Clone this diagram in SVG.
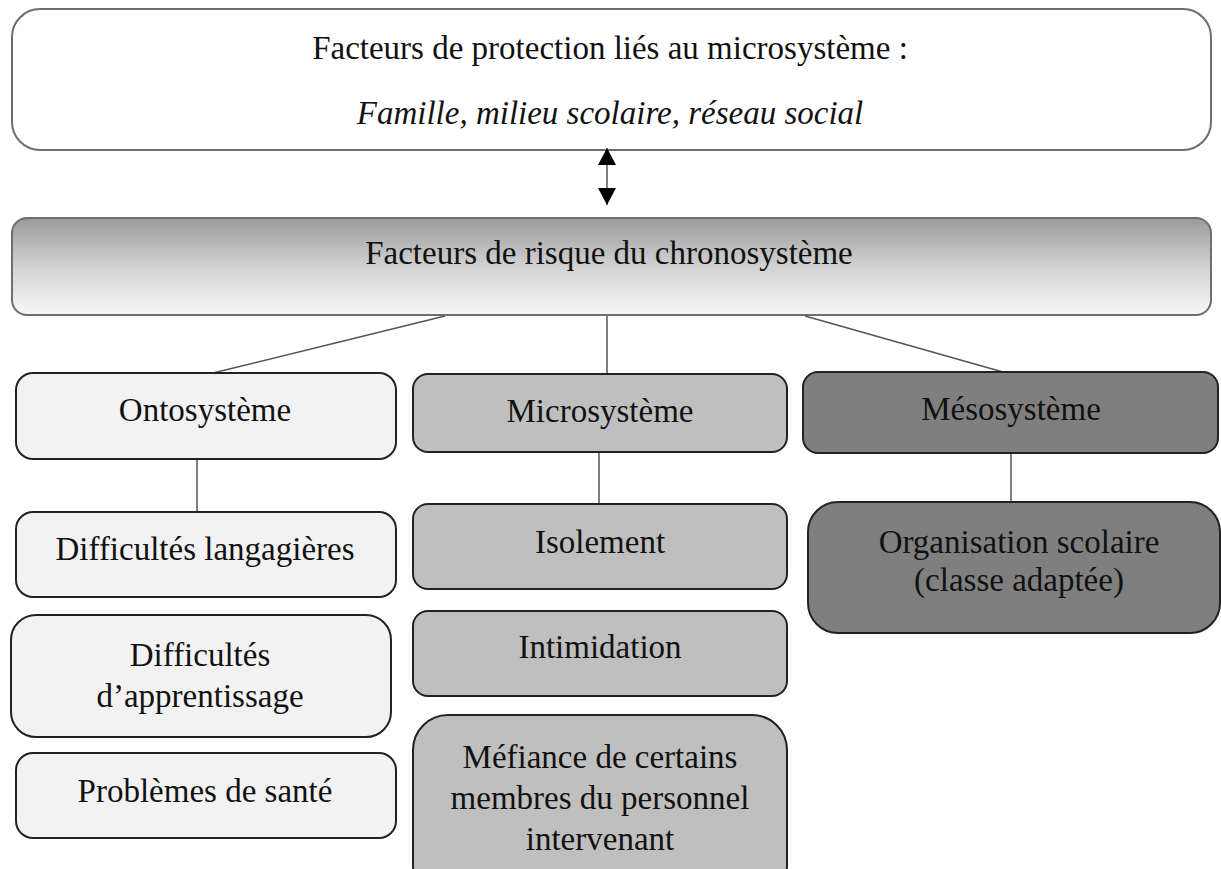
<svg xmlns="http://www.w3.org/2000/svg" width="1221" height="869" viewBox="0 0 1221 869">
<defs>
<linearGradient id="g" x1="0" y1="0" x2="0" y2="1">
<stop offset="0" stop-color="#9a9a9a"/>
<stop offset="0.5" stop-color="#d2d2d2"/>
<stop offset="1" stop-color="#f8f8f8"/>
</linearGradient>
<marker id="ah" viewBox="0 0 17 18" refX="17" refY="9" markerWidth="17" markerHeight="18" markerUnits="userSpaceOnUse" orient="auto-start-reverse">
<path d="M0,0 L17,9 L0,18 Z" fill="#000"/>
</marker>
</defs>
<style>
text{font-family:"Liberation Serif","Times New Roman",serif;font-size:33px;fill:#111;text-anchor:middle}
.b{stroke:#222;stroke-width:2}
.onto{fill:#f2f2f2}
.micro{fill:#bfbfbf}
.meso{fill:#7f7f7f}
.c{stroke:#555;stroke-width:1.5;fill:none}
</style>
<g id="protection">
<rect x="12" y="9" width="1199" height="141" rx="28" fill="#fff" stroke="#6e6e6e" stroke-width="2"/>
<text x="610" y="59">Facteurs de protection liés au microsystème :</text>
<text x="610" y="124" font-style="italic">Famille, milieu scolaire, réseau social</text>
</g>
<g id="chronosysteme">
<rect x="12" y="218" width="1199" height="97" rx="15" fill="url(#g)" stroke="#6e6e6e" stroke-width="2"/>
<text x="609" y="264">Facteurs de risque du chronosystème</text>
</g>
<g id="connectors">
<line x1="607" y1="148" x2="607" y2="205" class="c" stroke="#333" marker-start="url(#ah)" marker-end="url(#ah)"/>
<line x1="445" y1="316" x2="213" y2="373" class="c"/>
<line x1="607" y1="316" x2="607" y2="374" class="c"/>
<line x1="805" y1="316" x2="1003" y2="372" class="c"/>
<line x1="197" y1="459" x2="197" y2="512" class="c"/>
<line x1="599" y1="452" x2="599" y2="504" class="c"/>
<line x1="1011" y1="453" x2="1011" y2="502" class="c"/>
</g>
<g id="ontosysteme">
<rect x="16" y="373" width="380" height="86" rx="17" class="b onto"/>
<text x="205" y="421">Ontosystème</text>
</g>
<g id="difficultes-langagieres">
<rect x="16" y="512" width="380" height="85" rx="17" class="b onto"/>
<text x="205" y="560">Difficultés langagières</text>
</g>
<g id="difficultes-apprentissage">
<rect x="11" y="615" width="380" height="122" rx="25" class="b onto"/>
<text x="200" y="666">Difficultés</text>
<text x="200" y="707">d’apprentissage</text>
</g>
<g id="problemes-sante">
<rect x="16" y="753" width="380" height="85" rx="17" class="b onto"/>
<text x="205" y="802">Problèmes de santé</text>
</g>
<g id="microsysteme">
<rect x="413" y="374" width="374" height="78" rx="15" class="b micro"/>
<text x="600" y="422">Microsystème</text>
</g>
<g id="isolement">
<rect x="413" y="504" width="374" height="85" rx="15" class="b micro"/>
<text x="600" y="553">Isolement</text>
</g>
<g id="intimidation">
<rect x="413" y="611" width="374" height="85" rx="15" class="b micro"/>
<text x="600" y="658">Intimidation</text>
</g>
<g id="mefiance">
<rect x="413" y="715" width="374" height="185" rx="35" class="b micro"/>
<text x="600" y="768">Méfiance de certains</text>
<text x="600" y="809">membres du personnel</text>
<text x="600" y="850">intervenant</text>
</g>
<g id="mesosysteme">
<rect x="803" y="372" width="415" height="81" rx="15" class="b meso"/>
<text x="1011" y="420">Mésosystème</text>
</g>
<g id="organisation-scolaire">
<rect x="808" y="502" width="412" height="131" rx="30" class="b meso"/>
<text x="1019" y="553">Organisation scolaire</text>
<text x="1019" y="591">(classe adaptée)</text>
</g>
</svg>
